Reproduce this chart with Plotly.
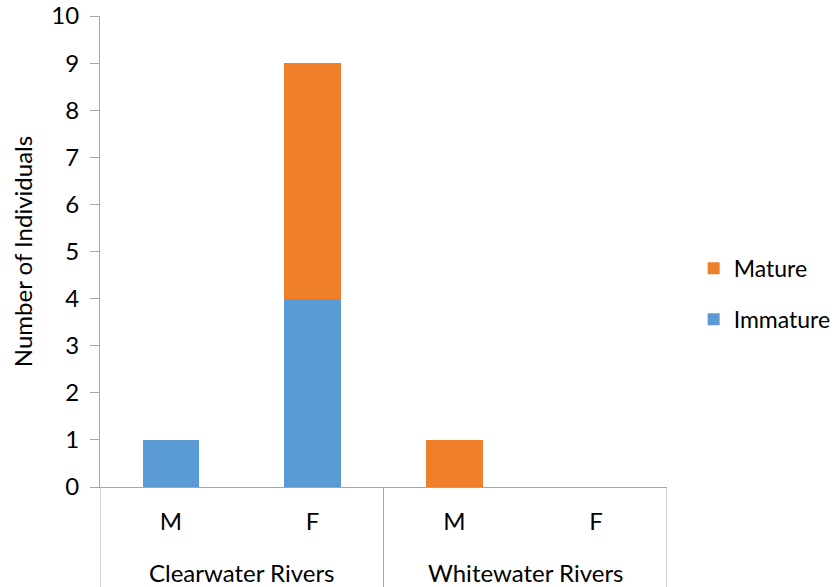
import plotly.graph_objects as go

# Sample counts by river type and sex
river_groups = ["Clearwater Rivers", "Whitewater Rivers"]
river_types = ["Clearwater Rivers", "Clearwater Rivers", "Whitewater Rivers", "Whitewater Rivers"]
sexes = ["M", "F", "M", "F"]
immature = [1, 4, 0, 0]
mature = [0, 5, 1, 0]
y_ticks = list(range(0, 11))

font_family = "Lato, Open Sans, sans-serif"
axis_grey = "#A6A6A6"

# one category slot per river/sex combination
slots = list(range(len(sexes)))

fig = go.Figure()
fig.add_trace(go.Bar(
    name="Immature",
    legendgroup="immature",
    legendrank=2,
    x=slots,
    y=immature,
    marker=dict(color="#5B9BD5", line=dict(width=0)),
))
fig.add_trace(go.Bar(
    name="Mature",
    legendgroup="mature",
    legendrank=1,
    x=slots,
    y=mature,
    marker=dict(color="#F07F2A", line=dict(width=0)),
))

# group labels and separators under the sex labels
label_depth = 100 / 471  # label band height relative to plot height
shapes = []
annotations = []
for g, name in enumerate(river_groups):
    members = [i for i, r in enumerate(river_types) if r == name]
    left, right = min(members) - 0.5, max(members) + 0.5
    annotations.append(dict(
        x=(left + right) / 2, xref="x",
        y=-0.181, yref="paper",
        text=name, showarrow=False,
        xanchor="center", yanchor="middle",
        font=dict(size=24),
    ))
    for edge in ([left, right] if g == 0 else [right]):
        shapes.append(dict(
            type="line", xref="x", yref="paper",
            x0=edge, x1=edge, y0=0, y1=-label_depth,
            line=dict(color=axis_grey, width=1),
        ))

fig.update_layout(
    barmode="stack",
    bargap=0.6,
    width=840,
    height=587,
    margin=dict(l=100, r=173, t=16, b=100, autoexpand=False),
    paper_bgcolor="white",
    plot_bgcolor="white",
    font=dict(family=font_family, size=24, color="black"),
    legend=dict(
        traceorder="grouped",
        x=1.047, y=0.41, xanchor="left", yanchor="middle",
        font=dict(size=23),
        tracegroupgap=18,
        itemwidth=30,
    ),
    showlegend=True,
    shapes=shapes,
    annotations=annotations,
)

fig.update_xaxes(
    type="linear",
    range=[-0.5, len(sexes) - 0.5],
    tickvals=slots, ticktext=sexes,
    automargin=False,
    showline=True, linecolor=axis_grey, linewidth=1,
    ticks="", showgrid=False, zeroline=False,
    tickfont=dict(size=24),
    ticklabelstandoff=13,
)
fig.update_yaxes(
    range=[0, 10],
    automargin=False,
    tickvals=y_ticks,
    showline=True, linecolor=axis_grey, linewidth=1,
    ticks="outside", ticklen=9, tickcolor=axis_grey,
    ticklabelstandoff=6,
    showgrid=False, zeroline=False,
    tickfont=dict(size=24),
    title=dict(text="Number of Individuals", font=dict(size=24), standoff=11),
)

fig.write_html("out.html")
